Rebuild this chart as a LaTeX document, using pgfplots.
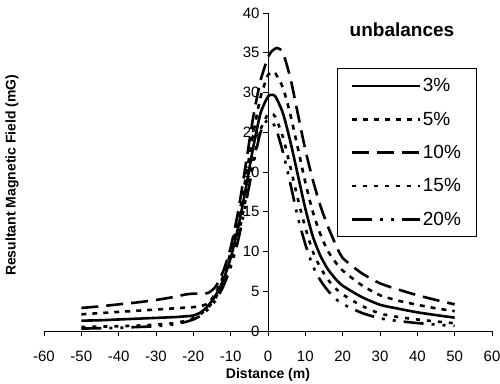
\documentclass[border=0pt]{standalone}
\usepackage{fontspec}
\setmainfont{Liberation Sans}
\usepackage{pgfplots}
\pgfplotsset{compat=1.18}
\begin{document}
\begin{tikzpicture}
\path[use as bounding box] (-44pt,-52pt) rectangle (456pt,331pt);
\begin{axis}[
  at={(0pt,0pt)}, anchor=south west,
  scale only axis, width=448pt, height=318pt,
  xmin=-60, xmax=60, ymin=0, ymax=40,
  axis x line=bottom, axis y line=middle,
  axis line style={-, line width=0.7pt},
  hide obscured x ticks=false, hide obscured y ticks=false,
  xtick={-60,-50,-40,-30,-20,-10,0,10,20,30,40,50,60},
  xticklabels={-60,-50,-40,-30,-20,-10,0,10,20,30,40,50,60},
  ytick={0,5,10,15,20,25,30,35,40},
  tick align=outside,
  major tick length=5pt,
  tick style={line width=0.7pt, black},
  /pgf/number format/assume math mode=true,
  tick label style={font=\fontsize{15}{18}\selectfont},
  xticklabel style={yshift=-11pt},
  every axis x label/.style={at={(axis description cs:0.5,-0.138)}, anchor=center, font=\fontsize{14}{16}\selectfont\bfseries},
  every axis y label/.style={at={(axis description cs:-0.0714,0.49)}, rotate=90, anchor=center, font=\fontsize{14}{16}\selectfont\bfseries},
  xlabel={Distance (m)},
  ylabel={Resultant Magnetic Field (mG)},
  legend style={at={(axis description cs:0.654,0.826)}, anchor=north west, draw=black, line width=0.6pt,
    font=\fontsize{19}{22}\selectfont, inner xsep=13pt, inner ysep=8pt, row sep=14.6pt,
    cells={anchor=west}},
  legend image code/.code={\draw[#1] (0pt,0pt) -- (68pt,0pt);},
]
% 3% (peak 29.7)
\addplot[black, line width=2.6pt, smooth, tension=0.4, solid] coordinates {(-50,1.3) (-45,1.35) (-40,1.45) (-35,1.55) (-30,1.65) (-25,1.75) (-22,1.85) (-20,1.95) (-18,2.35) (-16,3.2) (-14,4.5) (-12,6.4) (-10,9.2) (-8,13.0) (-6,17.8) (-4,23.0) (-2,27.4) (0,29.5) (1,29.7) (2,29.5) (4,27.4) (6,23.8) (8,19.6) (10,15.4) (12,11.9) (14,9.5) (16,7.8) (18,6.6) (20,5.7) (25,4.3) (30,3.3) (35,2.8) (40,2.35) (45,2.0) (50,1.68)};
\addlegendentry{3\%}
% 5% (peak 32.6)
\addplot[black, line width=2.6pt, smooth, tension=0.4, dash pattern=on 5pt off 6pt] coordinates {(-50,2.1) (-45,2.25) (-40,2.4) (-35,2.55) (-30,2.7) (-25,2.85) (-22,2.95) (-20,3.0) (-18,3.15) (-16,3.5) (-14,4.8) (-12,6.9) (-10,9.9) (-8,14.0) (-6,19.2) (-4,24.7) (-2,29.4) (0,32.2) (1.25,32.6) (2,32.4) (4,30.6) (6,27.2) (8,23.0) (10,18.7) (12,15.0) (14,12.2) (16,10.1) (18,8.7) (20,7.6) (25,5.8) (30,4.5) (35,3.8) (40,3.3) (45,2.85) (50,2.5)};
\addlegendentry{5\%}
% 10% (peak 35.6)
\addplot[black, line width=2.6pt, smooth, tension=0.4, dash pattern=on 17pt off 8pt] coordinates {(-50,2.9) (-45,3.1) (-40,3.35) (-35,3.6) (-30,3.9) (-25,4.3) (-22,4.6) (-20,4.7) (-18,4.7) (-16,4.8) (-14,5.6) (-12,7.5) (-10,10.5) (-8,15.0) (-6,20.8) (-4,26.8) (-2,31.5) (0,34.4) (1,35.2) (2.5,35.6) (4,35.0) (6,31.8) (8,27.3) (10,22.8) (12,19.0) (14,15.8) (16,13.2) (18,11.0) (20,9.2) (25,7.3) (30,6.0) (35,5.2) (40,4.5) (45,3.9) (50,3.35)};
\addlegendentry{10\%}
% 15% (peak 27.4)
\addplot[black, line width=2.6pt, smooth, tension=0.4, dash pattern=on 4pt off 7pt] coordinates {(-50,0.5) (-45,0.55) (-40,0.6) (-35,0.68) (-30,0.8) (-25,1.0) (-22,1.3) (-20,1.6) (-18,2.15) (-16,2.95) (-14,4.2) (-12,6.0) (-10,8.5) (-8,12.0) (-6,16.5) (-4,21.3) (-2,25.3) (0,27.3) (1,27.35) (2,26.9) (4,24.4) (6,20.6) (8,16.6) (10,13.0) (12,10.0) (14,8.0) (16,6.5) (18,5.4) (20,4.6) (25,3.2) (30,2.2) (35,1.75) (40,1.45) (45,1.2) (50,0.97)};
\addlegendentry{15\%}
% 20% (peak 26.6)
\addplot[black, line width=2.6pt, smooth, tension=0.4, dash pattern=on 20pt off 8pt on 3pt off 8pt on 3pt off 8pt] coordinates {(-50,0.3) (-45,0.35) (-40,0.4) (-35,0.5) (-30,0.6) (-25,0.85) (-22,1.15) (-20,1.45) (-18,1.95) (-16,2.75) (-14,3.9) (-12,5.6) (-10,8.0) (-8,11.4) (-6,15.9) (-4,20.8) (-2,25.0) (0,26.6) (2,25.6) (4,22.5) (6,18.5) (8,14.3) (10,10.9) (12,8.2) (14,6.4) (16,5.1) (18,4.1) (20,3.4) (25,2.3) (30,1.6) (35,1.25) (40,1.0) (45,0.8) (50,0.64)};
\addlegendentry{20\%}
\node[font=\fontsize{19}{22}\selectfont\bfseries] at (axis description cs:0.799,0.9465) {unbalances};
\end{axis}
\end{tikzpicture}
\end{document}
